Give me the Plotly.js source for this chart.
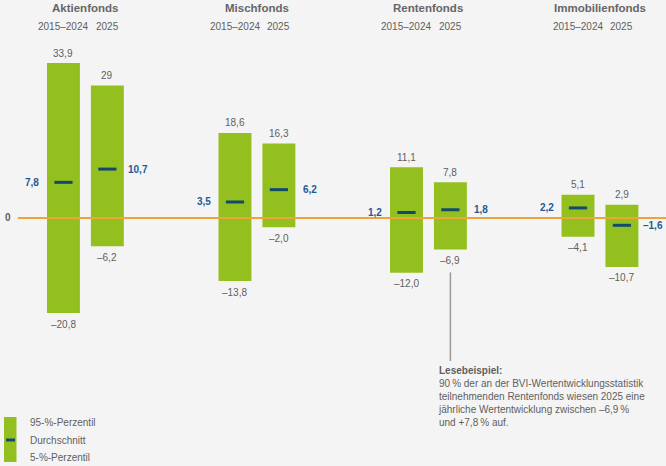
<!DOCTYPE html>
<html>
<head>
<meta charset="utf-8">
<script src="https://cdn.plot.ly/plotly-3.0.1.min.js"></script>
<style>
  html, body { margin: 0; padding: 0; background: #f4f4f4; }
  #chart { width: 666px; height: 466px; }
</style>
</head>
<body>
<div id="chart"></div>
<script>
// Fund categories and the two observation periods
const categories = ['Aktienfonds', 'Mischfonds', 'Rentenfonds', 'Immobilienfonds'];
const periods = ['2015–2024', '2025'];

// 95th percentile, mean and 5th percentile of annual returns (%)
const p95Hist = [33.9, 18.6, 11.1, 5.1];
const p95Year = [29, 16.3, 7.8, 2.9];
const meanHist = [7.8, 3.5, 1.2, 2.2];
const meanYear = [10.7, 6.2, 1.8, -1.6];
const p5Hist = [-20.8, -13.8, -12.0, -4.1];
const p5Year = [-6.2, -2.0, -6.9, -10.7];

const legendLabels = ['95-%-Perzentil', 'Durchschnitt', '5-%-Perzentil'];
const readingTitle = 'Lesebeispiel:';
const readingText = [
  '90\u202F% der an der BVI-Wertentwicklungsstatistik',
  'teilnehmenden Rentenfonds wiesen 2025 eine',
  'jährliche Wertentwicklung zwischen –6,9\u202F%',
  'und +7,8\u202F% auf.'
];

// Styling
const FONT = 'Liberation Sans, Arial, Helvetica, sans-serif';
const GREEN = '#94c01f';
const MEAN_MARK = '#124a6b';
const MEAN_TEXT = '#1f5a96';
const GREY = '#5f5f5f';
const ORANGE = '#efa33b';
const BG = '#f4f4f4';
const W = 666, H = 466;

const OFF = 0.128;      // bar offset from group centre
const BAR_W = 0.192;

const xHist = categories.map((_, i) => i - OFF);
const xYear = categories.map((_, i) => i + OFF);

// German number format with typographic minus
function fmt(v) {
  const s = (Number.isInteger(v) && v > 0) ? String(v) : Math.abs(v).toFixed(1).replace('.', ',');
  return v < 0 ? '–' + s : s;
}

const traces = [
  {
    type: 'bar', x: xHist, base: p5Hist,
    y: p95Hist.map((v, i) => v - p5Hist[i]),
    width: BAR_W, marker: { color: GREEN }, hoverinfo: 'skip', showlegend: false
  },
  {
    type: 'bar', x: xYear, base: p5Year,
    y: p95Year.map((v, i) => v - p5Year[i]),
    width: BAR_W, marker: { color: GREEN }, hoverinfo: 'skip', showlegend: false
  },
  {
    type: 'scatter', mode: 'markers',
    x: xHist.concat(xYear), y: meanHist.concat(meanYear),
    marker: { symbol: 'line-ew', size: 13, line: { width: 3, color: MEAN_MARK } },
    hoverinfo: 'skip', showlegend: false
  }
];

const ann = [];
const valFont = { family: FONT, size: 10, color: GREY };
const meanFont = { family: FONT, size: 10, color: MEAN_TEXT };

function addBarLabels(xs, hi, mean, lo, side) {
  xs.forEach((x, i) => {
    ann.push({ x: x, y: hi[i], text: fmt(hi[i]), showarrow: false, yanchor: 'middle', yshift: 10, font: valFont });
    ann.push({ x: x, y: lo[i], text: fmt(lo[i]), showarrow: false, yanchor: 'middle', yshift: -11, font: valFont });
    ann.push({ x: x, y: mean[i], text: '<b>' + fmt(mean[i]) + '</b>', showarrow: false, yanchor: 'middle', xshift: side * 31, font: meanFont });
  });
}
addBarLabels(xHist, p95Hist, meanHist, p5Hist, -1);
addBarLabels(xYear, p95Year, meanYear, p5Year, 1);

// Group headers and period labels
categories.forEach((c, i) => {
  ann.push({ x: i, y: 1 - 8 / H, yref: 'paper', text: '<b>' + c + '</b>', showarrow: false, yanchor: 'middle',
    font: { family: FONT, size: 11.5, color: '#666666' } });
  ann.push({ x: xHist[i], y: 1 - 26 / H, yref: 'paper', text: periods[0], showarrow: false, yanchor: 'middle',
    font: { family: FONT, size: 10, color: GREY } });
  ann.push({ x: xYear[i], y: 1 - 26 / H, yref: 'paper', text: periods[1], showarrow: false, yanchor: 'middle',
    font: { family: FONT, size: 10, color: GREY } });
});

// Zero label
ann.push({ x: 8 / W, xref: 'paper', y: 0, text: '<b>0</b>', showarrow: false, xanchor: 'center', yanchor: 'middle',
  font: { family: FONT, size: 10, color: GREY } });

// Legend texts
[422, 440, 457].forEach((py, k) => {
  ann.push({ x: 28 / W, xref: 'paper', y: 1 - py / H, yref: 'paper', text: legendLabels[k], showarrow: false,
    xanchor: 'left', yanchor: 'middle', font: { family: FONT, size: 10, color: GREY } });
});

// Reading example
ann.push({
  x: 436 / W, xref: 'paper', y: 1 - 363 / H, yref: 'paper', showarrow: false,
  xanchor: 'left', yanchor: 'top', align: 'left',
  text: '<b>' + readingTitle + '</b><br>' + readingText.join('<br>'),
  font: { family: FONT, size: 10, color: GREY }
});

const shapes = [
  // zero line
  { type: 'line', xref: 'paper', yref: 'y', x0: 18 / W, x1: 1, y0: 0, y1: 0,
    line: { color: ORANGE, width: 2 }, layer: 'above' },
  // callout leader from the Rentenfonds 2025 bar
  { type: 'line', xref: 'x', yref: 'y', x0: xYear[2], x1: xYear[2], y0: p5Year[2] - 5, y1: -31.3,
    line: { color: '#9a9a9a', width: 1.5 } },
  // legend symbol
  { type: 'rect', xref: 'paper', yref: 'paper', x0: 4 / W, x1: 16.5 / W, y0: 1 - 462 / H, y1: 1 - 417 / H,
    fillcolor: GREEN, line: { width: 0 } },
  { type: 'line', xref: 'paper', yref: 'paper', x0: 6 / W, x1: 15 / W, y0: 1 - 440 / H, y1: 1 - 440 / H,
    line: { color: MEAN_MARK, width: 3 } }
];

const layout = {
  width: W, height: H,
  margin: { l: 0, r: 0, t: 0, b: 0 },
  paper_bgcolor: BG, plot_bgcolor: BG,
  showlegend: false,
  barmode: 'overlay',
  xaxis: { range: [-0.498, 3.385], visible: false, fixedrange: true },
  yaxis: { range: [-54.27, 47.70], visible: false, fixedrange: true, zeroline: false },
  annotations: ann,
  shapes: shapes,
  font: { family: FONT }
};

Plotly.newPlot('chart', traces, layout, { displayModeBar: false, staticPlot: true });
</script>
</body>
</html>
